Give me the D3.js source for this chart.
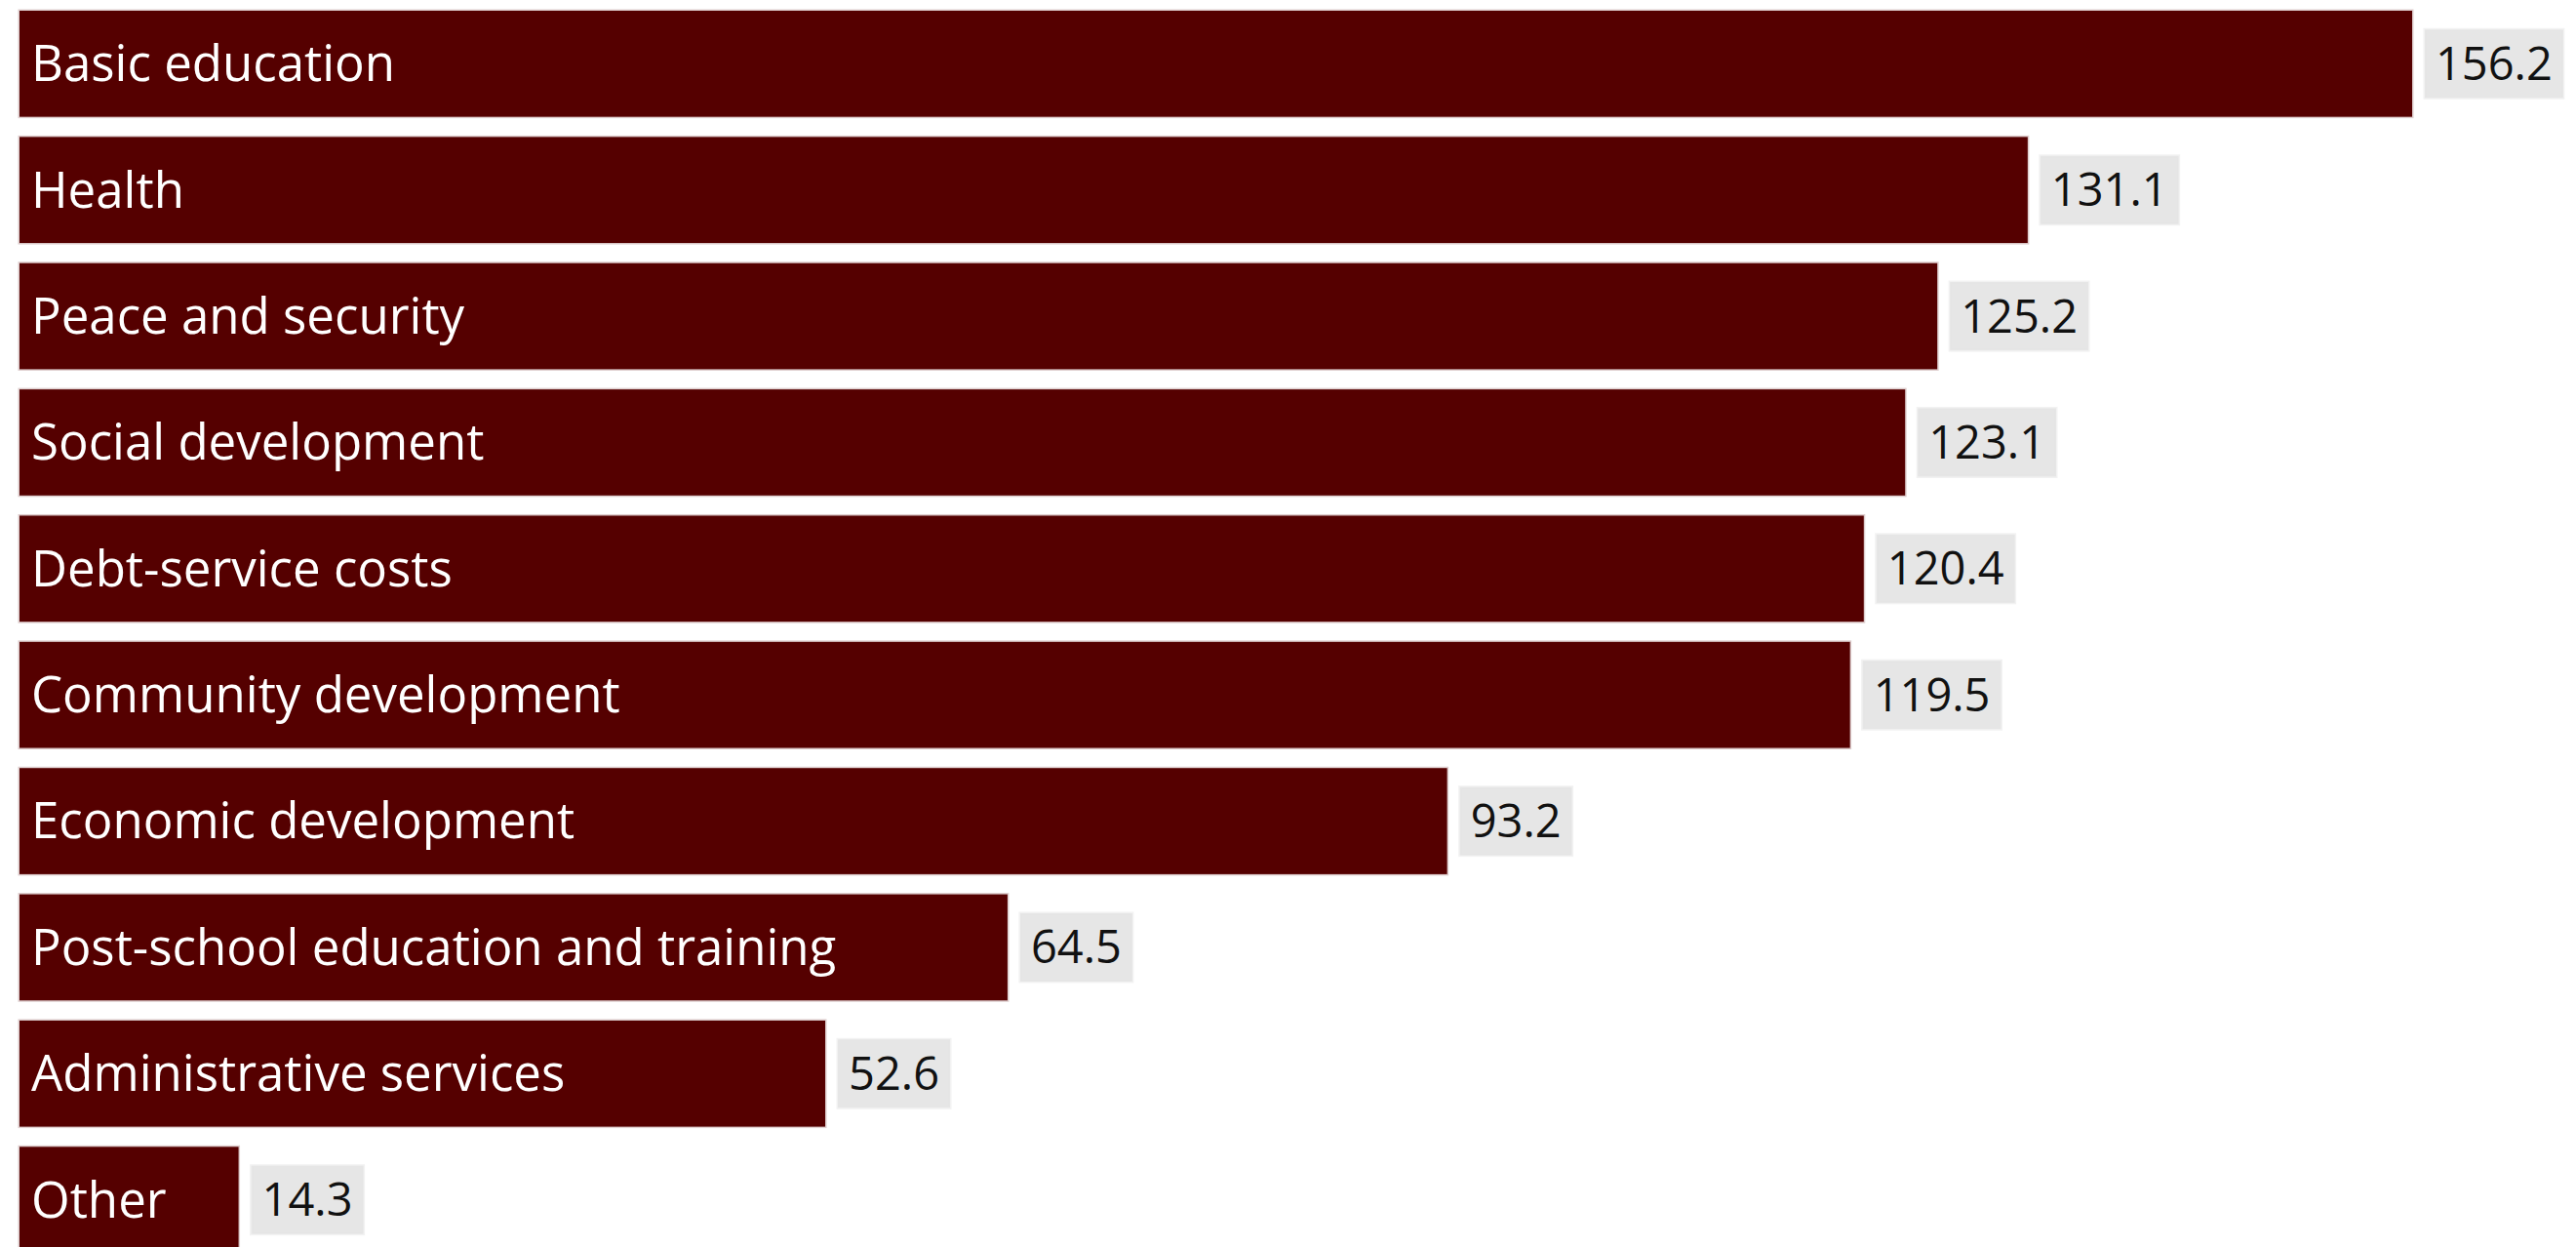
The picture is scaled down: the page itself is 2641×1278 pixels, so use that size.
<!DOCTYPE html>
<html>
<head>
<meta charset="utf-8">
<script src="https://cdn.jsdelivr.net/npm/d3@7"></script>
<style>
  html, body { margin: 0; padding: 0; background: #fff; }
  svg { display: block; }
  text { font-family: "Open Sans", "Noto Sans", sans-serif; }
</style>
</head>
<body>
<svg class="chart" width="2641" height="1278"></svg>
<script>
const categories = [
  "Basic education",
  "Health",
  "Peace and security",
  "Social development",
  "Debt-service costs",
  "Community development",
  "Economic development",
  "Post-school education and training",
  "Administrative services",
  "Other"
];
const values = [156.2, 131.1, 125.2, 123.1, 120.4, 119.5, 93.2, 64.5, 52.6, 14.3];
const valueLabels = ["156.2", "131.1", "125.2", "123.1", "120.4", "119.5", "93.2", "64.5", "52.6", "14.3"];

(() => {
  const svg = d3.select(".chart");

  const data = categories.map((c, i) => ({ name: c, value: values[i], label: valueLabels[i] }));

  const y = d3.scaleBand()
    .domain(categories)
    .range([11, 1284])
    .paddingInner(0.16)
    .paddingOuter(0);

  const x = d3.scaleLinear()
    .domain([0, d3.max(values)])
    .range([20, 2473]);

  const row = svg.append("g")
    .selectAll("g")
    .data(data)
    .enter()
    .append("g")
    .attr("transform", (d) => `translate(0,${y(d.name)})`);

  row.append("rect")
    .attr("x", x(0))
    .attr("y", 0)
    .attr("width", (d) => x(d.value) - x(0))
    .attr("height", y.bandwidth())
    .attr("fill", "#550000")
    .attr("stroke", "rgba(85,0,0,0.2)")
    .attr("stroke-width", 3);

  row.append("text")
    .attr("x", x(0) + 12)
    .attr("y", y.bandwidth() / 2)
    .attr("dy", "0.35em")
    .attr("fill", "#fff")
    .style("font-size", "51px")
    .text((d) => d.name);

  const tag = row.append("g")
    .attr("transform", (d) => `translate(${x(d.value) + 13},${y.bandwidth() / 2})`);

  const tagText = tag.append("text")
    .attr("x", 11)
    .attr("dy", "0.35em")
    .attr("fill", "#111")
    .style("font-size", "47px")
    .text((d) => d.label);

  tagText.each(function () {
    const w = this.getComputedTextLength();
    d3.select(this.parentNode)
      .insert("rect", "text")
      .attr("x", 0)
      .attr("y", -35)
      .attr("width", w + 22)
      .attr("height", 70)
      .attr("fill", "#e6e6e6")
      .attr("stroke", "rgba(230,230,230,0.5)")
      .attr("stroke-width", 3);
  });
})();
</script>
</body>
</html>
